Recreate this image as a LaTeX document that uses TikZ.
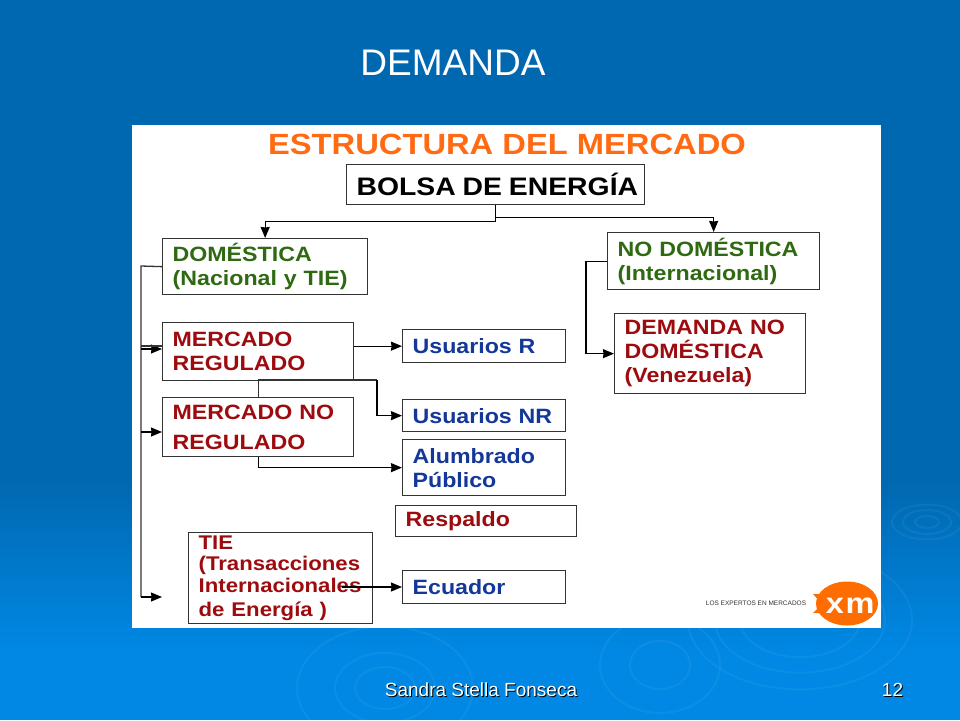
\documentclass[tikz,border=0pt]{standalone}
\usepackage{fontspec}
\setmainfont{Liberation Sans}
\newfontfamily\cajafont[FakeStretch=1.12]{Liberation Sans Bold}
\usetikzlibrary{arrows.meta,shadings}

\definecolor{fondoarriba}{HTML}{0068B0}
\definecolor{fondoabajo}{HTML}{0088E4}
\definecolor{naranja}{HTML}{FF6A13}
\definecolor{verde}{HTML}{2F6A12}
\definecolor{rojo}{HTML}{9E0B0F}
\definecolor{azul}{HTML}{14389A}
\definecolor{gris}{HTML}{333333}

\tikzset{
    caja/.style 2 args = {draw = gris, line width = 1.3pt, anchor = north west, fill = white,
        minimum width = #1 pt, minimum height = #2 pt, text width = #1 pt - 20pt,
        inner xsep = 10pt, inner ysep = 0pt, align = left, font = {\cajafont\fontsize{20.7}{24}\selectfont}},
    flecha/.style = {draw = black, line width = 1.3pt, -{Stealth[length = 11pt, width = 9pt, inset = 0.5pt]}},
    linea/.style = {draw = gris, line width = 1.3pt},
    onda/.style = {draw = white, opacity = 0.05, line width = 2pt},
    blanco/.style = {white, inner sep = 0pt},
    sombra/.style = {black, inner sep = 0pt}
}

\begin{document}
\begin{tikzpicture}[x = 1pt, y = -1pt]
    \useasboundingbox (0, 0) rectangle (960, 720);
    \fill[fondoarriba] (0, 0) rectangle (960, 481);
    \shade[top color = fondoarriba, bottom color = fondoabajo] (0, 480) rectangle (960, 651);
    \fill[fondoabajo] (0, 650) rectangle (960, 720);

    % ondas del fondo
    \begin{scope}
        \clip (0, 0) rectangle (960, 720);
        \foreach \r in {12, 24, 35} {
            \draw[onda] (927, 522) ellipse ({\r} and {\r * 0.5});
        }
        \foreach \r in {30, 60} {
            \draw[onda] (660, 665) ellipse ({\r} and {\r * 0.8});
        }
        \foreach \r in {60, 85, 112} {
            \draw[onda] (800, 620) ellipse ({\r} and {\r * 0.62});
        }
        \foreach \r in {30, 50, 88} {
            \draw[onda] (385, 688) ellipse ({\r} and {\r * 0.7});
        }
    \end{scope}

    \node[font = {\fontsize{37}{40}\selectfont}, blanco] (titulo) at (453, 63) {DEMANDA};
    \fill[white] (132, 125) rectangle (881, 628);
    \node[font = {\cajafont\fontsize{29.2}{32}\selectfont}, naranja, inner sep = 0pt] (estructura) at (507, 144) {ESTRUCTURA DEL MERCADO};

    % cajas
    \node[caja = {298}{40}] (bolsa) at (346, 164) {\fontsize{25.3}{28}\selectfont\mbox{BOLSA DE ENERGÍA}};
    \node[caja = {205}{56}, text = verde] (domestica) at (162, 238) {DOMÉSTICA\\(Nacional y TIE)};
    \node[caja = {212}{57}, text = verde] (nodomestica) at (607, 232) {NO DOMÉSTICA\\(Internacional)};
    \node[caja = {191}{80}, text = rojo] (demandano) at (614, 313) {DEMANDA NO\\DOMÉSTICA\\(Venezuela)};
    \node[caja = {191}{58}, text = rojo] (regulado) at (162, 322) {MERCADO\\REGULADO};
    \node[caja = {191}{59}, text = rojo] (noregulado) at (162, 397) {MERCADO NO\\[6pt]REGULADO};
    \node[caja = {163}{33}, text = azul] (usuariosr) at (402, 329) {Usuarios R};
    \node[caja = {163}{32}, text = azul] (usuariosnr) at (402, 399) {Usuarios NR};
    \node[caja = {163}{56}, text = azul] (alumbrado) at (402, 439) {Alumbrado\\Público};
    \node[caja = {181}{31}, text = rojo] (respaldo) at (395, 505) {Respaldo};
    \node[caja = {184}{91}, text = rojo] (tie) at (188, 532) {\fontsize{19.8}{21.5}\selectfont TIE\\(Transacciones\\Internacionales\\de Energía )};
    \node[caja = {163}{33}, text = azul] (ecuador) at (402, 570) {Ecuador};

    % extremos libres
    \coordinate (tronco) at (141, 266);
    \coordinate (finregulado) at (162, 349);
    \coordinate (finnoregulado) at (162, 432);
    \coordinate (fintie) at (162, 597);
    \coordinate (quiebre) at (377, 380);
    \coordinate (salidatie) at (342, 587);

    % conectores
    \draw[flecha] (bolsa.south) -- ++(0, 16) -| (domestica.north);
    \draw[flecha] (bolsa.south) -- ++(0, 12) -| (nodomestica.north);
    \draw[linea] (domestica.west) -- (tronco) -- (tronco |- fintie);
    \draw[flecha] (tronco |- fintie) -- (fintie);
    \draw[flecha] (tronco |- finregulado) -- (finregulado);
    \draw[linea] (141, 346) -- (162, 346);
    \draw[flecha] (tronco |- finnoregulado) -- (finnoregulado);
    \draw[flecha] (regulado.east |- usuariosr.west) -- (usuariosr.west);
    \draw[linea] (noregulado.north) |- (quiebre);
    \draw[flecha] (quiebre) |- (usuariosnr.west);
    \draw[flecha] (noregulado.south) |- (alumbrado.west);
    \draw[flecha] (salidatie) -- (salidatie -| ecuador.west);
    \draw[flecha] (nodomestica.west) -- ++(-21, 0) |- (demandano.west);

    % logo
    \fill[orange!85!red] (847, 603.5) ellipse (31 and 22);
    \fill[orange!85!red] (813, 594) -- (827, 594) -- (838, 604) -- (827, 613) -- (813, 613) -- (822, 604) -- cycle;
    \node[font = {\cajafont\fontsize{29}{31}\selectfont}, white, inner sep = 0pt, anchor = base] (letram) at (860, 613) {m};
    \node[font = {\cajafont\fontsize{29}{31}\selectfont}, white, inner sep = 0pt, anchor = base] (letrax) at (835, 613) {x};
    \node[font = {\fontsize{6.5}{7}\selectfont}, gris, inner sep = 0pt] (lema) at (756, 603) {LOS EXPERTOS EN MERCADOS};

    % pie
    \node[font = {\fontsize{19}{22}\selectfont}, sombra] (piesombra) at (482, 691) {Sandra Stella Fonseca};
    \node[font = {\fontsize{19}{22}\selectfont}, blanco] (pie) at (481, 690) {Sandra Stella Fonseca};
    \node[font = {\fontsize{19}{22}\selectfont}, sombra] (numerosombra) at (893.5, 691) {12};
    \node[font = {\fontsize{19}{22}\selectfont}, blanco] (numero) at (892.5, 690) {12};
\end{tikzpicture}
\end{document}
